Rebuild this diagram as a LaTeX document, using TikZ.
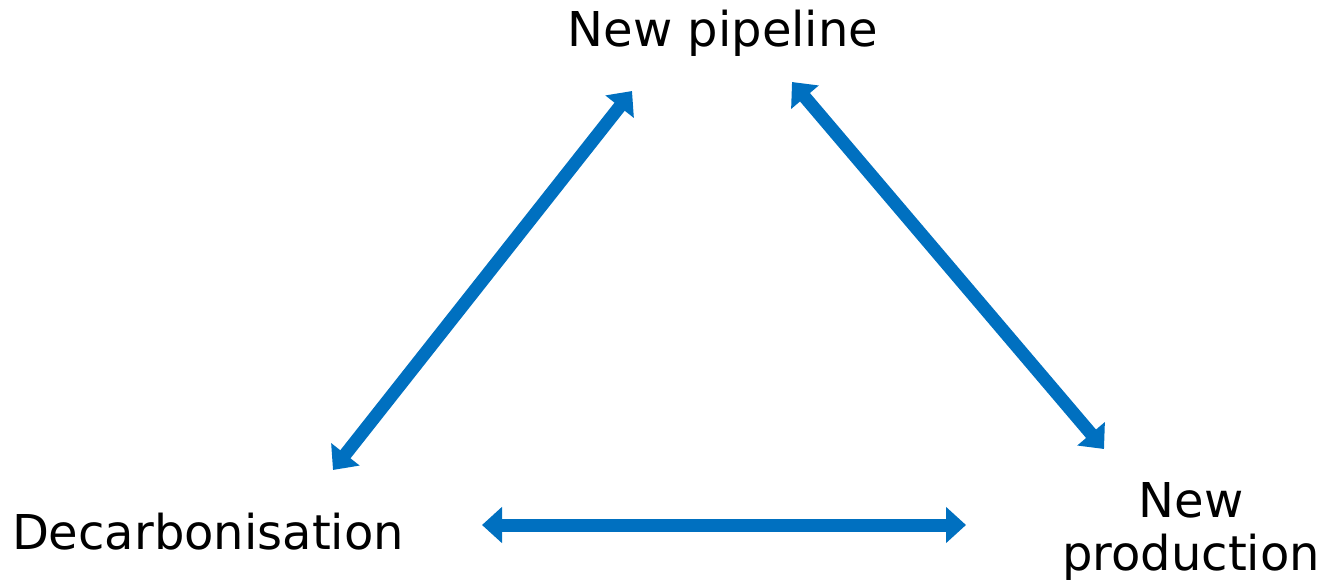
\documentclass[tikz,border=0pt]{standalone}
\usepackage{fontspec}
\setmainfont{DejaVu Sans}
\usetikzlibrary{arrows.meta}
\definecolor{arrowblue}{HTML}{0070C0}
\begin{document}
\begin{tikzpicture}[x=1pt,y=-1pt,
  lbl/.style={font=\fontsize{48}{53}\selectfont, inner sep=0pt, align=center},
  link/.style={draw=arrowblue, line width=13pt, {Triangle[width=35pt,length=20pt]}-{Triangle[width=35pt,length=20pt]}}]
\useasboundingbox (0,0) rectangle (1324,585);
\node[lbl, anchor=base] (pipe) at (723,47) {New pipeline};
\node[lbl, anchor=base] (decarb) at (208,549) {Decarbonisation};
\node[lbl, anchor=base] (prod) at (1191,570) {New\\production};
\coordinate (pL) at (632,91);
\coordinate (pR) at (792,82);
\coordinate (dT) at (333,470);
\coordinate (dR) at (482,525);
\coordinate (nT) at (1104,449);
\coordinate (nL) at (966,525);
\draw[link] (dT) -- (pL);
\draw[link] (pR) -- (nT);
\draw[link] (dR) -- (nL);
\end{tikzpicture}
\end{document}
